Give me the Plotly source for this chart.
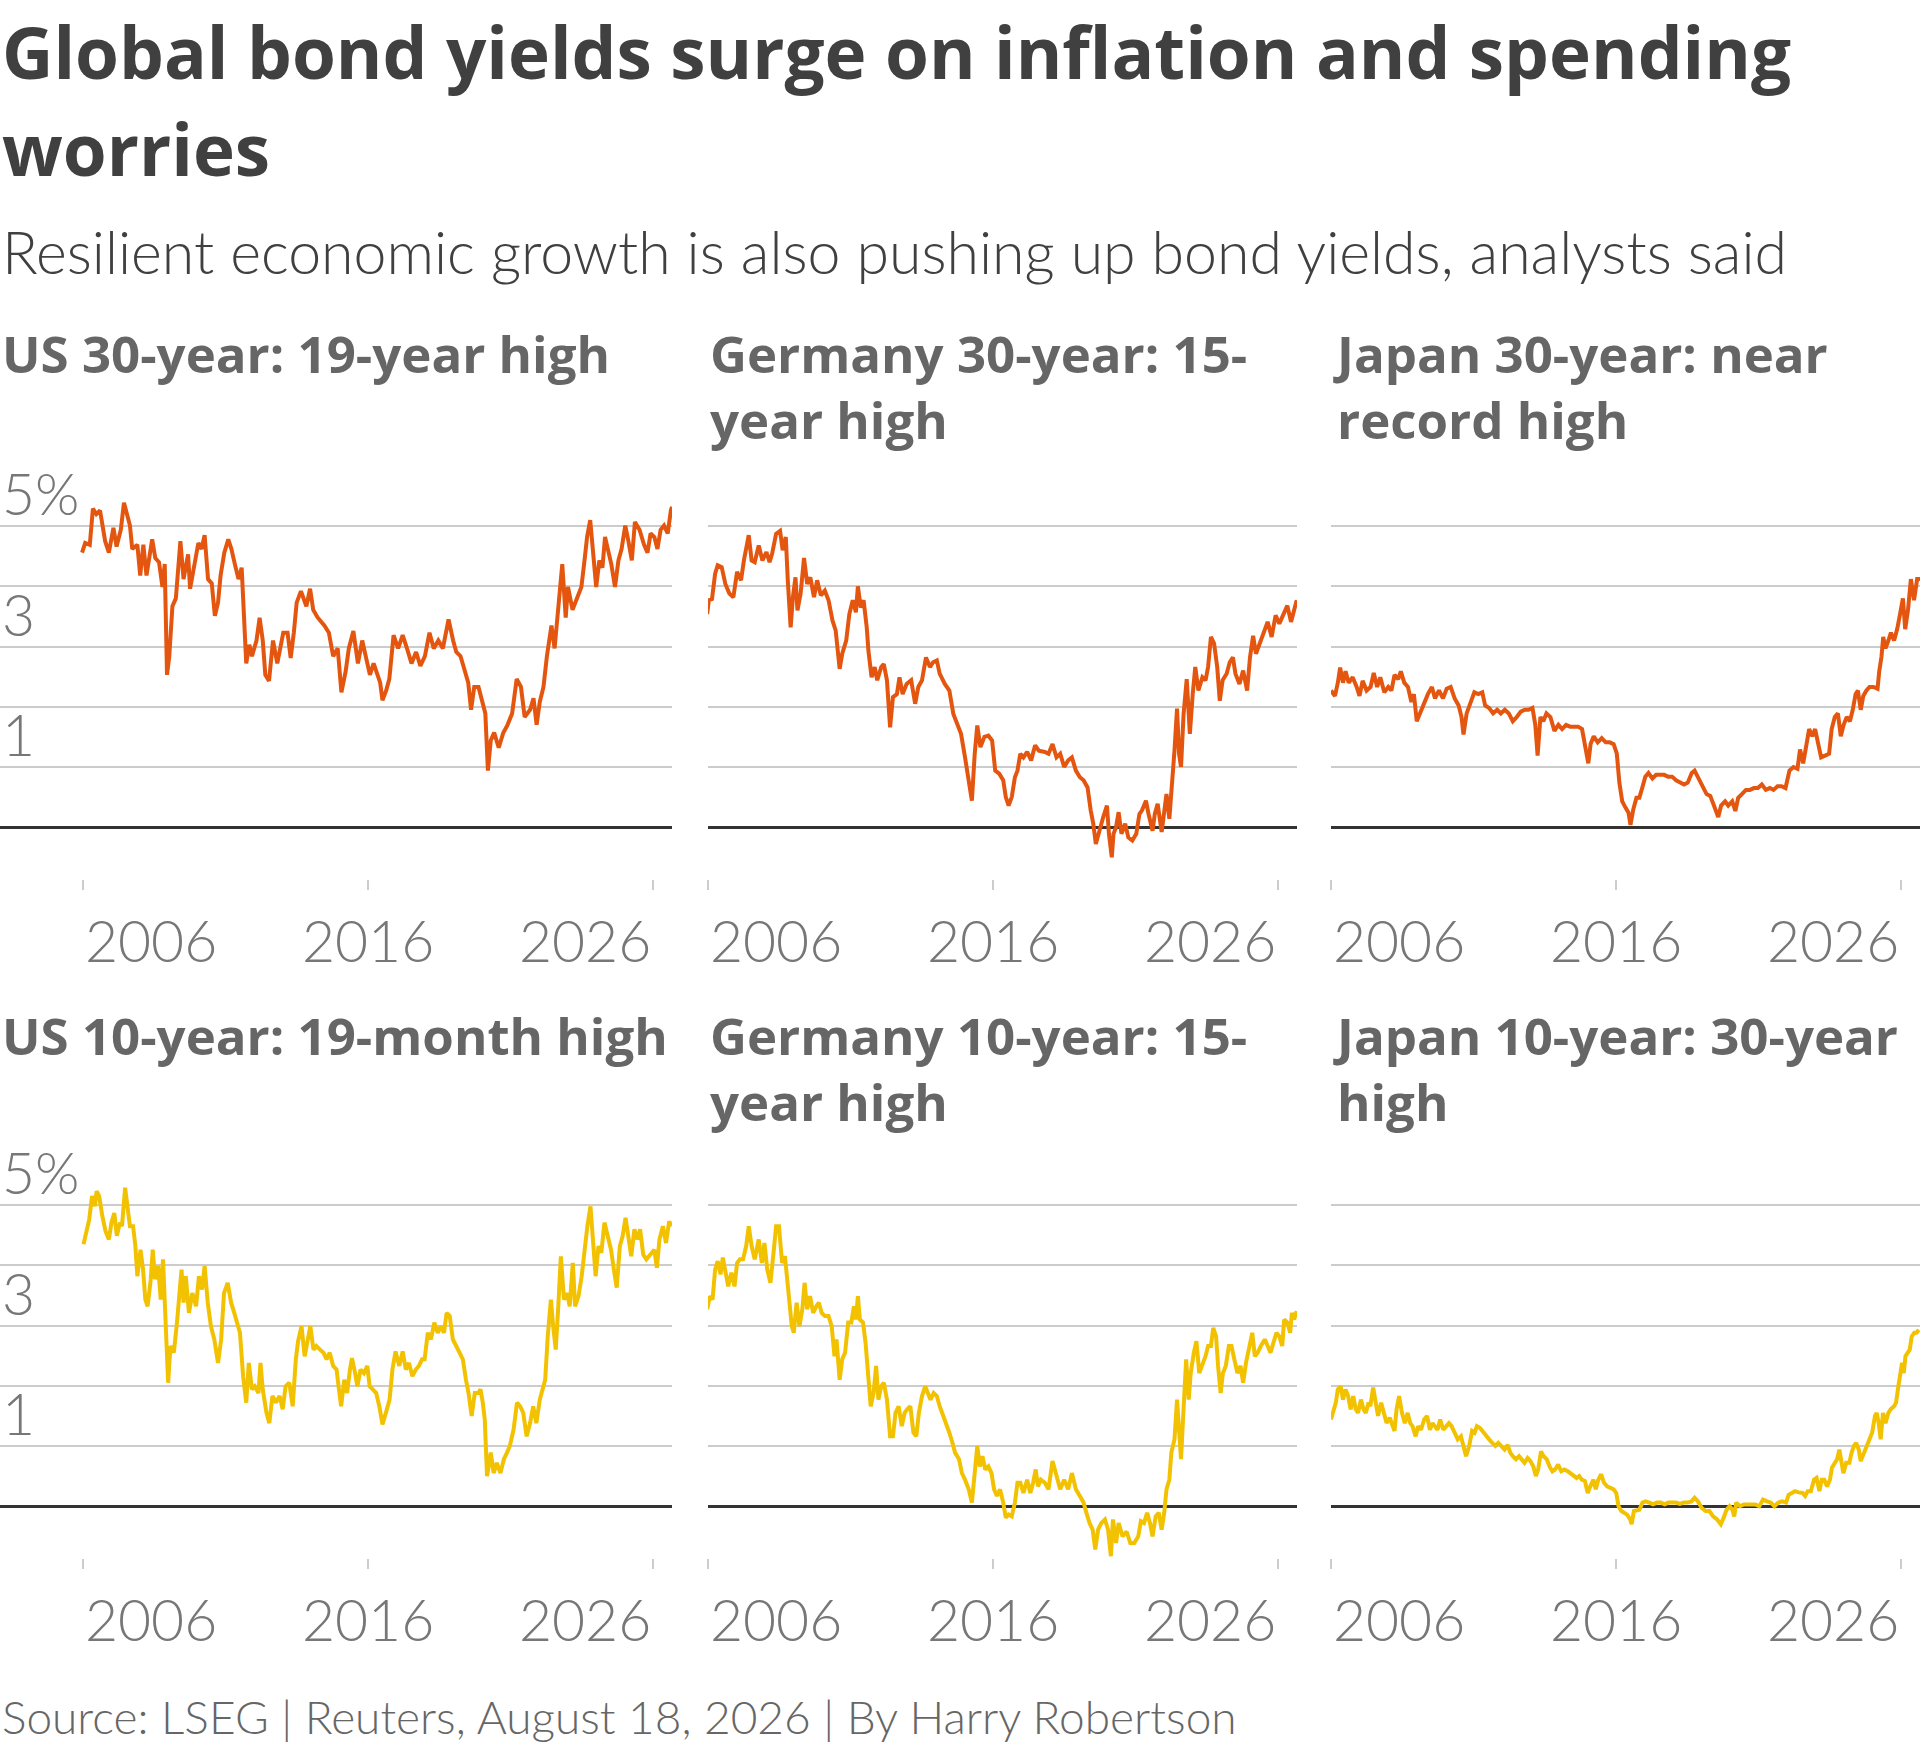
import plotly.graph_objects as go

# ---------------- data (decimal year, yield %) ----------------
US30 = [(2005.97,4.56),(2006.08,4.72),(2006.24,4.69),(2006.35,5.29),(2006.47,5.20),(2006.60,5.26),(2006.78,4.75),(2006.91,4.56),(2007.07,4.97),(2007.18,4.66),(2007.33,4.94),(2007.44,5.39),(2007.65,5.01),(2007.73,4.62),(2007.91,4.69),(2008.01,4.18),(2008.12,4.69),(2008.23,4.18),(2008.43,4.78),(2008.54,4.47),(2008.67,4.40),(2008.79,3.99),(2008.87,4.37),(2008.95,2.53),(2009.03,2.84),(2009.14,3.67),(2009.26,3.80),(2009.42,4.75),(2009.53,4.12),(2009.69,4.53),(2009.76,3.96),(2009.92,4.43),(2010.05,4.72),(2010.16,4.62),(2010.27,4.85),(2010.39,4.12),(2010.52,4.05),(2010.63,3.51),(2010.74,3.73),(2010.83,4.18),(2010.96,4.56),(2011.10,4.78),(2011.21,4.62),(2011.33,4.37),(2011.46,4.12),(2011.57,4.31),(2011.65,3.48),(2011.73,2.72),(2011.84,3.03),(2011.93,2.84),(2012.09,3.10),(2012.20,3.48),(2012.31,3.10),(2012.40,2.53),(2012.53,2.43),(2012.67,3.10),(2012.82,2.72),(2013.03,3.23),(2013.18,3.23),(2013.29,2.81),(2013.40,3.23),(2013.50,3.73),(2013.65,3.92),(2013.84,3.67),(2013.97,3.96),(2014.08,3.61),(2014.24,3.48),(2014.47,3.35),(2014.63,3.23),(2014.78,2.84),(2014.94,2.97),(2015.07,2.24),(2015.22,2.59),(2015.33,2.97),(2015.49,3.26),(2015.65,2.72),(2015.80,3.10),(2015.91,2.84),(2016.07,2.53),(2016.20,2.72),(2016.32,2.53),(2016.43,2.40),(2016.51,2.11),(2016.64,2.27),(2016.75,2.46),(2016.90,3.19),(2017.06,2.97),(2017.22,3.19),(2017.37,2.97),(2017.53,2.72),(2017.69,2.91),(2017.84,2.68),(2018.00,2.84),(2018.16,3.23),(2018.31,2.97),(2018.47,3.10),(2018.63,2.97),(2018.83,3.45),(2018.99,3.10),(2019.10,2.91),(2019.25,2.84),(2019.41,2.59),(2019.52,2.40),(2019.62,1.95),(2019.73,2.33),(2019.88,2.33),(2019.99,2.14),(2020.12,1.89),(2020.21,0.94),(2020.31,1.44),(2020.43,1.57),(2020.59,1.32),(2020.75,1.57),(2020.90,1.70),(2021.06,1.89),(2021.22,2.46),(2021.37,2.33),(2021.50,1.83),(2021.69,1.95),(2021.81,2.14),(2021.92,1.70),(2022.03,2.08),(2022.16,2.33),(2022.28,2.84),(2022.44,3.35),(2022.55,2.97),(2022.71,3.80),(2022.82,4.37),(2022.94,3.48),(2023.02,3.99),(2023.18,3.61),(2023.33,3.80),(2023.49,3.99),(2023.60,4.43),(2023.69,4.82),(2023.80,5.10),(2023.88,4.69),(2024.01,3.99),(2024.12,4.43),(2024.23,4.31),(2024.32,4.82),(2024.43,4.62),(2024.54,4.37),(2024.67,3.99),(2024.79,4.43),(2024.90,4.62),(2025.03,5.01),(2025.14,4.75),(2025.26,4.43),(2025.37,5.07),(2025.53,4.94),(2025.69,4.69),(2025.81,4.56),(2025.92,4.88),(2026.05,4.82),(2026.16,4.62),(2026.27,4.94),(2026.39,5.01),(2026.52,4.88),(2026.63,5.26),(2026.67,5.32)]

DE30 = [(2005.97,3.54),(2006.03,3.77),(2006.14,3.79),(2006.25,4.21),(2006.34,4.35),(2006.48,4.32),(2006.61,4.04),(2006.75,3.88),(2006.89,3.82),(2007.02,4.24),(2007.16,4.10),(2007.26,4.43),(2007.43,4.85),(2007.53,4.43),(2007.64,4.40),(2007.78,4.68),(2007.91,4.43),(2008.05,4.57),(2008.16,4.40),(2008.25,4.54),(2008.39,4.87),(2008.53,4.92),(2008.62,4.60),(2008.73,4.82),(2008.80,4.10),(2008.90,3.32),(2008.98,3.82),(2009.07,4.15),(2009.14,3.60),(2009.25,3.88),(2009.37,4.47),(2009.48,4.04),(2009.59,4.15),(2009.72,3.82),(2009.83,4.10),(2009.96,3.85),(2010.10,3.93),(2010.23,3.77),(2010.37,3.43),(2010.48,3.27),(2010.62,2.63),(2010.71,2.88),(2010.85,3.10),(2010.96,3.54),(2011.08,3.77),(2011.19,3.57),(2011.26,4.00),(2011.36,3.65),(2011.46,3.77),(2011.57,3.32),(2011.63,2.93),(2011.74,2.49),(2011.85,2.66),(2011.94,2.44),(2012.08,2.66),(2012.17,2.71),(2012.28,2.44),(2012.39,1.66),(2012.49,2.16),(2012.63,2.21),(2012.72,2.49),(2012.83,2.21),(2012.97,2.38),(2013.13,2.44),(2013.27,2.05),(2013.38,2.33),(2013.51,2.44),(2013.65,2.82),(2013.79,2.66),(2013.90,2.74),(2014.03,2.77),(2014.13,2.55),(2014.31,2.38),(2014.47,2.27),(2014.61,1.88),(2014.74,1.72),(2014.88,1.55),(2015.02,1.16),(2015.15,0.78),(2015.26,0.44),(2015.36,1.22),(2015.45,1.69),(2015.56,1.33),(2015.70,1.50),(2015.84,1.52),(2015.97,1.44),(2016.08,0.94),(2016.22,0.89),(2016.36,0.78),(2016.45,0.50),(2016.55,0.36),(2016.66,0.50),(2016.77,0.83),(2016.86,0.94),(2016.96,1.22),(2017.07,1.16),(2017.20,1.25),(2017.34,1.11),(2017.48,1.36),(2017.61,1.27),(2017.82,1.25),(2017.95,1.22),(2018.09,1.38),(2018.23,1.16),(2018.36,1.22),(2018.50,1.00),(2018.64,1.11),(2018.77,1.16),(2018.91,0.94),(2019.05,0.83),(2019.18,0.78),(2019.32,0.66),(2019.43,0.28),(2019.52,0.06),(2019.61,-0.28),(2019.73,-0.06),(2019.87,0.17),(2020.00,0.36),(2020.07,-0.11),(2020.17,-0.50),(2020.23,-0.11),(2020.32,0.00),(2020.41,0.25),(2020.51,-0.11),(2020.64,0.06),(2020.75,-0.17),(2020.89,-0.22),(2021.03,-0.11),(2021.14,0.22),(2021.23,0.28),(2021.37,0.44),(2021.46,0.22),(2021.60,-0.06),(2021.68,0.22),(2021.78,0.39),(2021.92,-0.08),(2022.01,0.28),(2022.09,0.55),(2022.19,0.14),(2022.28,0.66),(2022.37,1.27),(2022.46,1.97),(2022.53,1.22),(2022.60,1.00),(2022.69,1.88),(2022.80,2.46),(2022.91,1.55),(2023.01,2.21),(2023.10,2.66),(2023.21,2.27),(2023.35,2.49),(2023.46,2.44),(2023.55,2.66),(2023.65,3.16),(2023.76,3.05),(2023.87,2.66),(2023.96,2.10),(2024.06,2.44),(2024.20,2.55),(2024.31,2.74),(2024.42,2.82),(2024.51,2.55),(2024.65,2.38),(2024.78,2.60),(2024.92,2.27),(2025.02,2.82),(2025.13,3.18),(2025.23,2.88),(2025.37,3.05),(2025.51,3.21),(2025.64,3.41),(2025.78,3.16),(2025.92,3.52),(2026.05,3.38),(2026.18,3.54),(2026.33,3.68),(2026.46,3.41),(2026.56,3.60),(2026.66,3.77)]

JP30 = [(2006.00,2.27),(2006.14,2.18),(2006.24,2.40),(2006.32,2.65),(2006.42,2.40),(2006.51,2.59),(2006.62,2.40),(2006.76,2.49),(2006.90,2.33),(2007.00,2.18),(2007.11,2.43),(2007.25,2.27),(2007.39,2.33),(2007.50,2.56),(2007.62,2.33),(2007.73,2.49),(2007.87,2.24),(2008.01,2.33),(2008.12,2.27),(2008.23,2.53),(2008.36,2.46),(2008.45,2.59),(2008.57,2.40),(2008.70,2.33),(2008.82,2.08),(2008.91,2.21),(2009.01,1.76),(2009.12,1.89),(2009.26,2.08),(2009.40,2.21),(2009.54,2.33),(2009.65,2.14),(2009.79,2.27),(2009.93,2.14),(2010.06,2.30),(2010.20,2.33),(2010.34,2.14),(2010.48,2.02),(2010.58,1.83),(2010.65,1.54),(2010.76,1.89),(2010.90,2.08),(2011.03,2.24),(2011.17,2.21),(2011.31,2.24),(2011.41,2.02),(2011.55,1.98),(2011.69,1.89),(2011.83,1.95),(2011.96,1.89),(2012.10,1.95),(2012.24,1.89),(2012.38,1.76),(2012.52,1.83),(2012.66,1.92),(2012.80,1.95),(2012.93,1.95),(2013.07,1.98),(2013.17,1.70),(2013.25,1.19),(2013.35,1.83),(2013.45,1.76),(2013.56,1.89),(2013.70,1.83),(2013.84,1.60),(2013.98,1.70),(2014.11,1.63),(2014.25,1.70),(2014.39,1.67),(2014.53,1.67),(2014.67,1.67),(2014.81,1.63),(2014.92,1.38),(2015.03,1.06),(2015.11,1.38),(2015.22,1.51),(2015.36,1.41),(2015.50,1.48),(2015.64,1.41),(2015.78,1.41),(2015.92,1.38),(2016.03,1.22),(2016.12,0.74),(2016.22,0.43),(2016.33,0.33),(2016.44,0.24),(2016.51,0.04),(2016.61,0.30),(2016.72,0.49),(2016.82,0.49),(2016.92,0.65),(2017.03,0.84),(2017.14,0.90),(2017.28,0.81),(2017.41,0.87),(2017.55,0.87),(2017.69,0.87),(2017.83,0.84),(2017.97,0.84),(2018.11,0.78),(2018.25,0.74),(2018.39,0.71),(2018.52,0.74),(2018.66,0.90),(2018.76,0.94),(2018.90,0.81),(2019.04,0.65),(2019.18,0.55),(2019.31,0.52),(2019.45,0.36),(2019.59,0.17),(2019.69,0.36),(2019.83,0.43),(2019.94,0.36),(2020.08,0.43),(2020.19,0.27),(2020.29,0.49),(2020.42,0.55),(2020.56,0.62),(2020.70,0.62),(2020.84,0.65),(2020.98,0.65),(2021.12,0.71),(2021.26,0.62),(2021.40,0.65),(2021.53,0.62),(2021.67,0.68),(2021.81,0.68),(2021.95,0.65),(2022.09,0.94),(2022.23,1.00),(2022.37,0.97),(2022.46,1.29),(2022.57,1.06),(2022.68,1.32),(2022.78,1.63),(2022.89,1.51),(2022.99,1.63),(2023.10,1.38),(2023.20,1.16),(2023.34,1.19),(2023.48,1.22),(2023.57,1.63),(2023.68,1.83),(2023.79,1.89),(2023.89,1.51),(2023.99,1.70),(2024.10,1.83),(2024.21,1.76),(2024.31,1.95),(2024.41,2.21),(2024.49,2.27),(2024.59,1.95),(2024.68,2.18),(2024.79,2.27),(2024.90,2.33),(2025.04,2.33),(2025.18,2.30),(2025.24,2.59),(2025.32,2.84),(2025.38,3.16),(2025.46,2.97),(2025.56,3.10),(2025.65,3.23),(2025.76,3.10),(2025.87,3.29),(2025.97,3.54),(2026.07,3.80),(2026.15,3.29),(2026.25,3.61),(2026.35,4.12),(2026.46,3.77),(2026.57,4.12),(2026.67,4.12)]

US10 = [(2006.02,4.35),(2006.11,4.51),(2006.22,4.76),(2006.32,5.15),(2006.42,4.98),(2006.48,5.23),(2006.57,5.15),(2006.68,4.82),(2006.79,4.57),(2006.91,4.43),(2007.00,4.71),(2007.10,4.87),(2007.19,4.49),(2007.30,4.71),(2007.37,4.65),(2007.48,5.29),(2007.57,4.93),(2007.65,4.65),(2007.76,4.65),(2007.84,4.32),(2007.91,3.82),(2008.02,4.26),(2008.11,3.93),(2008.19,3.43),(2008.27,3.32),(2008.38,3.77),(2008.45,4.26),(2008.53,3.77),(2008.64,3.99),(2008.73,3.43),(2008.81,4.10),(2008.89,3.10),(2008.99,2.05),(2009.07,2.66),(2009.19,2.55),(2009.30,3.05),(2009.38,3.43),(2009.46,3.93),(2009.53,3.38),(2009.61,3.82),(2009.72,3.21),(2009.84,3.54),(2009.97,3.32),(2010.07,3.82),(2010.18,3.60),(2010.27,3.99),(2010.38,3.38),(2010.49,2.99),(2010.61,2.77),(2010.74,2.38),(2010.85,2.77),(2010.95,3.54),(2011.08,3.71),(2011.20,3.38),(2011.31,3.21),(2011.42,2.99),(2011.51,2.88),(2011.62,2.16),(2011.73,1.72),(2011.82,2.38),(2011.93,1.94),(2012.03,1.99),(2012.16,1.88),(2012.23,2.38),(2012.31,1.94),(2012.44,1.55),(2012.54,1.38),(2012.65,1.83),(2012.77,1.72),(2012.90,1.83),(2013.01,1.61),(2013.11,1.99),(2013.24,2.05),(2013.36,1.66),(2013.47,2.44),(2013.55,2.74),(2013.67,2.99),(2013.78,2.49),(2013.89,2.77),(2013.98,2.99),(2014.09,2.60),(2014.19,2.66),(2014.32,2.60),(2014.44,2.55),(2014.55,2.44),(2014.66,2.55),(2014.78,2.33),(2014.90,2.27),(2014.97,1.99),(2015.06,1.66),(2015.17,2.10),(2015.27,1.88),(2015.37,2.27),(2015.44,2.46),(2015.55,2.21),(2015.63,1.99),(2015.74,2.27),(2015.86,2.21),(2015.98,2.33),(2016.06,1.99),(2016.17,1.94),(2016.29,1.88),(2016.40,1.66),(2016.51,1.36),(2016.63,1.55),(2016.76,1.77),(2016.86,2.27),(2016.97,2.57),(2017.10,2.33),(2017.22,2.57),(2017.33,2.27),(2017.44,2.38),(2017.56,2.16),(2017.68,2.27),(2017.79,2.33),(2017.90,2.44),(2017.99,2.44),(2018.10,2.88),(2018.21,2.77),(2018.33,3.05),(2018.45,2.88),(2018.56,2.99),(2018.67,2.88),(2018.76,3.21),(2018.87,3.16),(2018.98,2.77),(2019.10,2.66),(2019.23,2.55),(2019.33,2.44),(2019.44,2.10),(2019.53,1.88),(2019.64,1.50),(2019.75,1.88),(2019.87,1.88),(2019.95,1.94),(2020.03,1.72),(2020.10,1.44),(2020.18,0.50),(2020.31,0.89),(2020.41,0.55),(2020.52,0.72),(2020.65,0.55),(2020.77,0.78),(2020.88,0.89),(2020.98,1.00),(2021.11,1.27),(2021.23,1.72),(2021.34,1.66),(2021.45,1.55),(2021.57,1.16),(2021.69,1.38),(2021.80,1.66),(2021.91,1.38),(2022.03,1.77),(2022.16,1.99),(2022.22,2.10),(2022.31,2.82),(2022.42,3.43),(2022.50,2.99),(2022.59,2.60),(2022.68,3.32),(2022.77,4.15),(2022.88,3.43),(2022.99,3.54),(2023.08,3.32),(2023.19,4.04),(2023.27,3.32),(2023.39,3.49),(2023.50,3.82),(2023.61,4.32),(2023.70,4.65),(2023.81,4.98),(2023.89,4.54),(2023.99,3.82),(2024.09,4.32),(2024.19,4.21),(2024.30,4.71),(2024.43,4.49),(2024.53,4.26),(2024.63,3.93),(2024.73,3.63),(2024.84,4.32),(2024.94,4.49),(2025.04,4.79),(2025.12,4.49),(2025.24,4.15),(2025.35,4.60),(2025.46,4.43),(2025.55,4.60),(2025.66,4.18),(2025.77,4.10),(2025.86,4.15),(2025.97,4.21),(2026.05,4.26),(2026.14,3.96),(2026.23,4.43),(2026.35,4.65),(2026.46,4.37),(2026.57,4.73),(2026.66,4.65)]

DE10 = [(2005.97,3.27),(2006.07,3.49),(2006.16,3.43),(2006.25,3.93),(2006.34,4.07),(2006.44,3.85),(2006.52,4.13),(2006.61,3.93),(2006.71,3.65),(2006.82,3.88),(2006.93,3.65),(2007.02,4.04),(2007.12,4.10),(2007.23,4.10),(2007.34,4.32),(2007.43,4.65),(2007.53,4.32),(2007.64,4.10),(2007.78,4.43),(2007.89,4.04),(2007.98,4.37),(2008.08,3.93),(2008.19,3.71),(2008.30,4.21),(2008.39,4.65),(2008.49,4.65),(2008.60,4.04),(2008.70,4.15),(2008.80,3.71),(2008.87,3.32),(2008.94,2.99),(2009.01,2.88),(2009.11,3.38),(2009.21,2.99),(2009.31,3.27),(2009.39,3.71),(2009.48,3.27),(2009.58,3.49),(2009.69,3.21),(2009.80,3.32),(2009.89,3.38),(2009.99,3.21),(2010.10,3.16),(2010.23,3.16),(2010.34,2.99),(2010.44,2.49),(2010.51,2.77),(2010.62,2.10),(2010.71,2.44),(2010.81,2.55),(2010.92,3.05),(2011.03,3.05),(2011.12,3.32),(2011.19,3.10),(2011.26,3.49),(2011.33,3.10),(2011.44,3.05),(2011.53,2.71),(2011.63,2.10),(2011.71,1.66),(2011.81,1.88),(2011.90,2.33),(2011.98,1.77),(2012.08,1.99),(2012.17,2.05),(2012.28,1.77),(2012.39,1.16),(2012.49,1.16),(2012.58,1.55),(2012.69,1.66),(2012.80,1.33),(2012.90,1.55),(2012.99,1.61),(2013.10,1.66),(2013.21,1.22),(2013.31,1.16),(2013.40,1.55),(2013.51,1.83),(2013.62,1.99),(2013.72,1.88),(2013.81,1.77),(2013.92,1.88),(2014.03,1.83),(2014.13,1.66),(2014.22,1.55),(2014.33,1.38),(2014.47,1.22),(2014.58,1.05),(2014.67,0.89),(2014.81,0.78),(2014.91,0.55),(2015.02,0.44),(2015.15,0.28),(2015.26,0.06),(2015.36,0.61),(2015.45,1.00),(2015.54,0.66),(2015.63,0.83),(2015.73,0.61),(2015.84,0.66),(2015.95,0.55),(2016.04,0.28),(2016.14,0.17),(2016.25,0.28),(2016.36,0.06),(2016.45,-0.19),(2016.55,-0.14),(2016.66,-0.17),(2016.77,0.06),(2016.86,0.39),(2016.96,0.39),(2017.07,0.22),(2017.20,0.44),(2017.31,0.22),(2017.41,0.39),(2017.50,0.61),(2017.58,0.33),(2017.68,0.44),(2017.82,0.39),(2017.95,0.28),(2018.09,0.75),(2018.23,0.50),(2018.36,0.28),(2018.50,0.44),(2018.64,0.28),(2018.77,0.55),(2018.91,0.28),(2019.05,0.17),(2019.18,0.06),(2019.28,-0.11),(2019.39,-0.28),(2019.50,-0.39),(2019.59,-0.72),(2019.69,-0.39),(2019.80,-0.28),(2019.93,-0.22),(2020.04,-0.39),(2020.14,-0.83),(2020.21,-0.22),(2020.32,-0.61),(2020.41,-0.28),(2020.55,-0.50),(2020.69,-0.42),(2020.82,-0.61),(2020.96,-0.61),(2021.10,-0.50),(2021.19,-0.25),(2021.30,-0.28),(2021.41,-0.11),(2021.51,-0.28),(2021.60,-0.50),(2021.71,-0.17),(2021.82,-0.11),(2021.92,-0.39),(2022.01,-0.11),(2022.09,0.28),(2022.19,0.44),(2022.26,0.89),(2022.37,1.11),(2022.46,1.77),(2022.53,1.16),(2022.60,0.78),(2022.67,1.44),(2022.78,2.44),(2022.87,1.77),(2022.94,2.21),(2023.05,2.55),(2023.14,2.74),(2023.24,2.21),(2023.35,2.33),(2023.46,2.49),(2023.55,2.66),(2023.65,2.66),(2023.73,2.96),(2023.83,2.82),(2023.90,2.33),(2023.99,1.88),(2024.07,2.21),(2024.17,2.33),(2024.28,2.66),(2024.37,2.66),(2024.47,2.44),(2024.58,2.21),(2024.69,2.33),(2024.78,2.05),(2024.88,2.38),(2024.99,2.60),(2025.10,2.88),(2025.19,2.49),(2025.29,2.55),(2025.40,2.66),(2025.54,2.77),(2025.64,2.66),(2025.74,2.55),(2025.84,2.71),(2025.95,2.88),(2026.05,2.82),(2026.15,2.66),(2026.22,3.10),(2026.33,3.05),(2026.43,2.88),(2026.49,3.21),(2026.57,3.10),(2026.66,3.24)]

JP10 = [(2006.00,1.44),(2006.08,1.55),(2006.17,1.72),(2006.24,1.94),(2006.34,1.99),(2006.42,1.77),(2006.51,1.94),(2006.60,1.83),(2006.69,1.61),(2006.78,1.83),(2006.87,1.61),(2006.95,1.55),(2007.05,1.77),(2007.14,1.61),(2007.22,1.55),(2007.32,1.72),(2007.38,1.66),(2007.48,1.97),(2007.56,1.77),(2007.65,1.50),(2007.76,1.72),(2007.85,1.55),(2007.95,1.38),(2008.06,1.47),(2008.16,1.33),(2008.23,1.25),(2008.30,1.61),(2008.39,1.83),(2008.49,1.55),(2008.59,1.38),(2008.69,1.55),(2008.78,1.38),(2008.86,1.33),(2008.97,1.16),(2009.06,1.33),(2009.16,1.27),(2009.27,1.44),(2009.37,1.50),(2009.47,1.27),(2009.56,1.38),(2009.64,1.33),(2009.74,1.27),(2009.83,1.44),(2009.94,1.27),(2010.05,1.33),(2010.14,1.38),(2010.23,1.33),(2010.34,1.22),(2010.45,1.11),(2010.56,1.16),(2010.64,1.00),(2010.74,0.83),(2010.85,1.00),(2010.95,1.25),(2011.04,1.22),(2011.12,1.33),(2011.23,1.30),(2011.35,1.22),(2011.44,1.16),(2011.55,1.11),(2011.66,1.05),(2011.77,1.00),(2011.87,1.05),(2011.98,1.00),(2012.09,0.94),(2012.20,1.02),(2012.29,0.89),(2012.38,0.83),(2012.49,0.78),(2012.60,0.83),(2012.69,0.78),(2012.79,0.72),(2012.90,0.80),(2013.00,0.75),(2013.10,0.66),(2013.19,0.50),(2013.27,0.61),(2013.37,0.91),(2013.46,0.83),(2013.57,0.78),(2013.67,0.66),(2013.77,0.58),(2013.86,0.61),(2013.97,0.69),(2014.08,0.58),(2014.19,0.61),(2014.31,0.58),(2014.40,0.55),(2014.51,0.50),(2014.62,0.47),(2014.71,0.50),(2014.80,0.44),(2014.91,0.42),(2015.01,0.22),(2015.10,0.33),(2015.21,0.44),(2015.29,0.28),(2015.38,0.44),(2015.48,0.53),(2015.58,0.39),(2015.69,0.33),(2015.80,0.30),(2015.92,0.28),(2016.01,0.22),(2016.09,0.00),(2016.19,-0.08),(2016.28,-0.11),(2016.39,-0.14),(2016.50,-0.22),(2016.55,-0.30),(2016.63,-0.08),(2016.73,-0.06),(2016.82,-0.06),(2016.93,0.06),(2017.04,0.08),(2017.17,0.06),(2017.30,0.03),(2017.44,0.06),(2017.57,0.06),(2017.71,0.03),(2017.84,0.06),(2017.98,0.06),(2018.11,0.06),(2018.24,0.04),(2018.38,0.06),(2018.51,0.06),(2018.65,0.08),(2018.76,0.14),(2018.88,0.08),(2019.01,-0.03),(2019.15,-0.08),(2019.28,-0.08),(2019.41,-0.17),(2019.55,-0.22),(2019.68,-0.30),(2019.78,-0.19),(2019.88,-0.06),(2019.99,0.00),(2020.09,-0.06),(2020.15,-0.17),(2020.22,0.06),(2020.35,0.00),(2020.49,0.03),(2020.62,0.03),(2020.76,0.03),(2020.89,0.03),(2021.03,0.00),(2021.16,0.11),(2021.30,0.08),(2021.43,0.06),(2021.56,0.00),(2021.70,0.06),(2021.83,0.08),(2021.97,0.06),(2022.06,0.19),(2022.17,0.22),(2022.28,0.25),(2022.41,0.23),(2022.55,0.22),(2022.64,0.17),(2022.73,0.25),(2022.84,0.25),(2022.95,0.44),(2023.04,0.47),(2023.14,0.25),(2023.22,0.44),(2023.31,0.44),(2023.41,0.33),(2023.51,0.44),(2023.58,0.64),(2023.67,0.72),(2023.76,0.78),(2023.84,0.94),(2023.92,0.66),(2023.98,0.55),(2024.08,0.72),(2024.19,0.72),(2024.27,0.89),(2024.35,1.00),(2024.43,1.05),(2024.52,0.94),(2024.59,0.75),(2024.70,0.89),(2024.79,1.00),(2024.88,1.11),(2024.99,1.22),(2025.09,1.50),(2025.15,1.55),(2025.22,1.38),(2025.29,1.11),(2025.37,1.55),(2025.46,1.38),(2025.56,1.55),(2025.64,1.61),(2025.76,1.66),(2025.83,1.72),(2025.91,1.99),(2025.96,2.16),(2026.04,2.38),(2026.10,2.21),(2026.16,2.49),(2026.24,2.55),(2026.31,2.60),(2026.38,2.82),(2026.47,2.88),(2026.55,2.88),(2026.63,2.93)]

SERIES = [US30, DE30, JP30, US10, DE10, JP10]
PANEL_TITLES = ["US 30-year: 19-year high",
                "Germany 30-year: 15-<br>year high",
                "Japan 30-year: near<br>record high",
                "US 10-year: 19-month high",
                "Germany 10-year: 15-<br>year high",
                "Japan 10-year: 30-year<br>high"]
X_TICKS = [2006, 2016, 2026]
X_TICK_TEXT = ["2006", "2016", "2026"]
Y_TICKS = [0, 1, 2, 3, 4, 5]
Y_TICK_TEXT = ["", "1", "", "3", "", "5%"]
TITLE_LINES = ["Global bond yields surge on inflation and spending", "worries"]
SUBTITLE = "Resilient economic growth is also pushing up bond yields, analysts said"
SOURCE = "Source: LSEG | Reuters, August 18, 2026 | By Harry Robertson"

# ---------------- styling / layout ----------------
W, H = 1920, 1747
FONT = "Lato"
BOLD_FONT = "Open Sans"
ORANGE = "#e4560f"
YELLOW = "#f2c200"
COLORS = [ORANGE, ORANGE, ORANGE, YELLOW, YELLOW, YELLOW]
COL_PX = [(0, 672), (708, 1297), (1331, 1920)]
ROW_PX = [(490, 879), (1169, 1558)]          # top, bottom of plot areas
TITLE_TOP = [316, 998]                        # top of panel-title boxes
TITLE_LINE_TOP = [1, 98]                      # top of each headline line box
X_START = [2003.09, 2006.0, 2006.0]
X_END = 2026.67
Y_RANGE = [-0.86, 5.6]

def py(p):
    return 1 - p / H

fig = go.Figure()
annotations = []
layout = {}
for i, (data, color) in enumerate(zip(SERIES, COLORS)):
    r, c = divmod(i, 3)
    n = "" if i == 0 else str(i + 1)
    xs = [d[0] for d in data]
    ys = [d[1] for d in data]
    fig.add_trace(go.Scatter(x=xs, y=ys, mode="lines",
                             line=dict(color=color, width=4),
                             xaxis="x" + n, yaxis="y" + n,
                             hoverinfo="skip", showlegend=False))
    layout["xaxis" + n] = dict(
        domain=[COL_PX[c][0] / W, COL_PX[c][1] / W],
        range=[X_START[c], X_END], anchor="y" + n,
        showgrid=False, zeroline=False, showline=False,
        tickvals=X_TICKS, ticks="outside", ticklen=10, tickwidth=2,
        tickcolor="#cccccc", showticklabels=False, fixedrange=True)
    layout["yaxis" + n] = dict(
        domain=[py(ROW_PX[r][1]), py(ROW_PX[r][0])],
        range=Y_RANGE, anchor="x" + n,
        tickvals=Y_TICKS, showticklabels=False, ticks="",
        showgrid=True, gridcolor="#cccccc", gridwidth=2,
        zeroline=True, zerolinecolor="#333333", zerolinewidth=2.5,
        showline=False, fixedrange=True)
    # y labels (left column only), sitting just above their grid lines
    if c == 0:
        for v, lab in zip(Y_TICKS, Y_TICK_TEXT):
            if lab:
                annotations.append(dict(
                    text=lab, xref="x" + n + " domain", yref="y" + n,
                    x=0, y=v, xanchor="left", yanchor="bottom", yshift=-3,
                    showarrow=False,
                    font=dict(family=FONT, size=57, color="#777777", weight=300)))
    # panel title
    annotations.append(dict(
        text=PANEL_TITLES[i], xref="paper", yref="paper",
        x=COL_PX[c][0] / W, y=py(TITLE_TOP[r]), xanchor="left", yanchor="top",
        align="left", showarrow=False,
        font=dict(family=BOLD_FONT, size=51, color="#666666", weight=700)))
    # x tick labels: first left-aligned, middle centred, last right-aligned
    for t, lab, anc in zip(X_TICKS, X_TICK_TEXT, ["left", "center", "right"]):
        annotations.append(dict(
            text=lab, xref="x" + n, yref="y" + n + " domain",
            x=t, y=-0.158, xanchor=anc, yanchor="middle", showarrow=False,
            font=dict(family=FONT, size=57, color="#777777", weight=300)))

for line, top in zip(TITLE_LINES, TITLE_LINE_TOP):
    annotations.append(dict(
        text=line, xref="paper", yref="paper", x=0, y=py(top),
        xanchor="left", yanchor="top", align="left", showarrow=False,
        font=dict(family=BOLD_FONT, size=71, color="#404040", weight=700)))
annotations.append(dict(
    text=SUBTITLE, xref="paper", yref="paper", x=0, y=py(289),
    xanchor="left", yanchor="bottom", align="left", showarrow=False,
    font=dict(family=FONT, size=59, color="#404040", weight=300)))
annotations.append(dict(
    text=SOURCE, xref="paper", yref="paper", x=0, y=py(1746),
    xanchor="left", yanchor="bottom", align="left", showarrow=False,
    font=dict(family=FONT, size=46, color="#666666", weight=300)))

fig.update_layout(
    width=W, height=H, margin=dict(l=0, r=0, t=0, b=0),
    paper_bgcolor="white", plot_bgcolor="white",
    annotations=annotations, **layout)

fig.write_html("out.html", post_script="document.body.style.margin='0';",
               config={"displayModeBar": False})
